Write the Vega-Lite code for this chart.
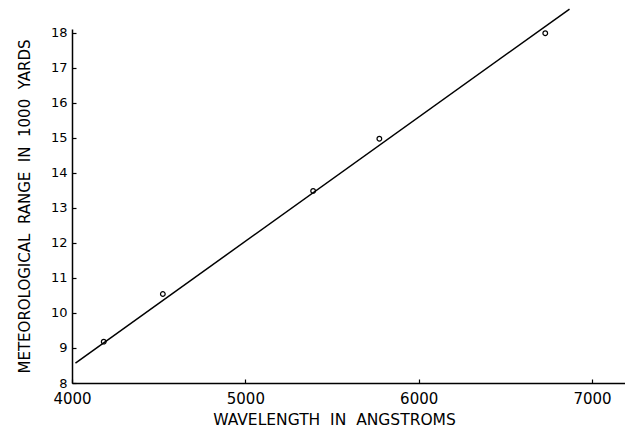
{
  "$schema": "https://vega.github.io/schema/vega-lite/v6.json",
  "width": 553,
  "height": 354,
  "autosize": {"type": "none"},
  "padding": {"left": 72, "top": 29, "right": 0, "bottom": 48},
  "background": "white",
  "config": {
    "view": {"stroke": null},
    "axis": {
      "grid": false,
      "domainColor": "black",
      "domainWidth": 1.5,
      "tickColor": "black",
      "tickWidth": 1.2,
      "labelColor": "black",
      "titleColor": "black",
      "labelFont": "DejaVu Sans",
      "titleFont": "DejaVu Sans",
      "titleFontWeight": "normal",
      "labelOverlap": false,
      "labelFlush": false
    }
  },
  "datasets": {
    "points": [
      {"wavelength": 4183, "range": 9.18},
      {"wavelength": 4524, "range": 10.54},
      {"wavelength": 5391, "range": 13.48},
      {"wavelength": 5773, "range": 14.97},
      {"wavelength": 6730, "range": 17.98}
    ],
    "fit": [
      {"wavelength": 4020, "range": 8.57},
      {"wavelength": 6870, "range": 18.67}
    ]
  },
  "encoding": {
    "x": {"field": "wavelength", "type": "quantitative", "scale": {"domain": [4000, 7190], "nice": false, "zero": false},
      "axis": {"values": [4000, 5000, 6000, 7000], "labelOverlap": false, "tickSize": -4, "labelPadding": 12, "labelFontSize": 15, "format": "d",
        "title": "WAVELENGTH\u00a0\u00a0IN\u00a0\u00a0ANGSTROMS", "titleFontSize": 15.5, "titleX": 262, "titlePadding": 6}},
    "y": {"field": "range", "type": "quantitative", "scale": {"domain": [8, 18.1], "nice": false, "zero": false},
      "axis": {"values": [8, 9, 10, 11, 12, 13, 14, 15, 16, 17, 18], "labelOverlap": false, "tickSize": -4, "labelPadding": 9, "labelFontSize": 13,
        "title": "METEOROLOGICAL\u00a0\u00a0RANGE\u00a0\u00a0IN\u00a0\u00a01000\u00a0\u00a0YARDS", "titleFontSize": 15, "titlePadding": 18}}
  },
  "layer": [
    {
      "data": {"name": "fit"},
      "mark": {"type": "line", "color": "black", "strokeWidth": 1.5, "clip": false}
    },
    {
      "data": {"name": "points"},
      "mark": {"type": "point", "shape": "circle", "filled": false, "color": "black", "size": 22, "strokeWidth": 1.2, "opacity": 1}
    }
  ]
}
